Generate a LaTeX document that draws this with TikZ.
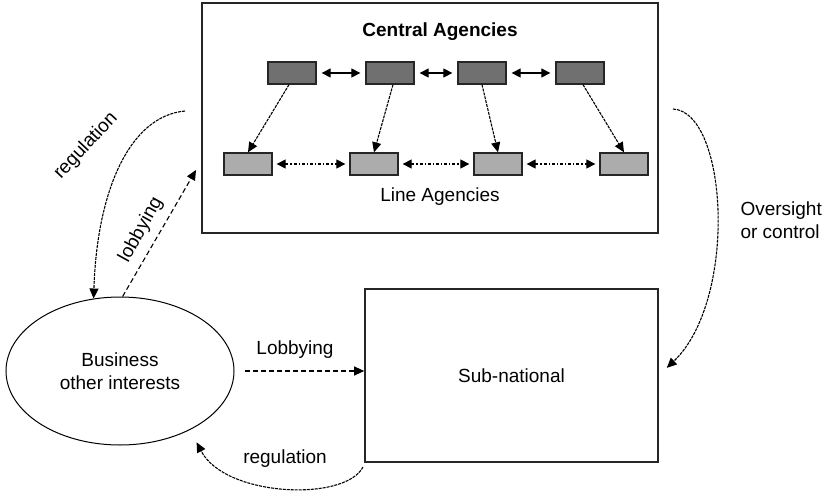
\documentclass[tikz,border=0pt]{standalone}
\usepackage{fontspec}
\setmainfont{Liberation Sans}
\usepackage{tikz}
\usetikzlibrary{shapes.geometric, arrows.meta, positioning, calc}
\definecolor{centralgray}{RGB}{112,112,112}
\definecolor{linegray}{RGB}{172,172,172}
\tikzset{
    every node/.style={font=\fontsize{19}{23}\selectfont},
    frame/.style={rectangle, draw=black!85, line width=1.6pt, inner sep=0pt},
    central/.style={rectangle, fill=centralgray, draw=black!85, line width=1.3pt,
        minimum width=48pt, minimum height=22pt, inner sep=0pt},
    lineag/.style={rectangle, fill=linegray, draw=black!85, line width=1.3pt,
        minimum width=48pt, minimum height=22pt, inner sep=0pt},
    interests/.style={ellipse, draw=black, line width=1pt, minimum width=228pt,
        minimum height=148pt, align=center, inner sep=0pt},
    arrow/.style={line width=1.1pt, -{Triangle[length=10pt,width=9pt]}},
    twoway/.style={line width=1.2pt, {Triangle[length=9pt,width=9pt]}-{Triangle[length=9pt,width=9pt]}},
    finedash/.style={dash pattern=on 3pt off 1pt},
    lobbydash/.style={dash pattern=on 5pt off 3pt}
}
\begin{document}
\begin{tikzpicture}[x=1pt, y=-1pt]
\useasboundingbox (0,0) rectangle (822,490);
% main boxes
\node[frame, minimum width=456pt, minimum height=230pt] (gov) at (430,118) {};
\node[frame, minimum width=293pt, minimum height=173pt] (sub) at (511.5,375.5) {Sub-national};
\node[interests] (busi) at (120,371) {Business\\other interests};
\node[font=\fontsize{19}{23}\selectfont\bfseries] (cenlabel) at (440,32) {Central Agencies};
\node (linelabel) at (440,197) {Line Agencies};
% agencies
\node[central] (c1) at (292,73) {};
\node[central] (c2) at (390,73) {};
\node[central] (c3) at (482,73) {};
\node[central] (c4) at (580,73) {};
\node[lineag] (l1) at (248,164) {};
\node[lineag] (l2) at (374,164) {};
\node[lineag] (l3) at (498,164) {};
\node[lineag] (l4) at (624,164) {};
\draw[twoway, shorten <=5pt, shorten >=5pt] (c1) -- (c2);
\draw[twoway, shorten <=5pt, shorten >=5pt] (c2) -- (c3);
\draw[twoway, shorten <=5pt, shorten >=5pt] (c3) -- (c4);
\draw[twoway, dash dot, shorten <=4pt, shorten >=4pt] (l1) -- (l2);
\draw[twoway, dash dot, shorten <=4pt, shorten >=4pt] (l2) -- (l3);
\draw[twoway, dash dot, shorten <=4pt, shorten >=4pt] (l3) -- (l4);
\draw[arrow, finedash] ([xshift=-3pt]c1.south) -- (l1.north);
\draw[arrow, finedash] ([xshift=3pt]c2.south) -- (l2.north);
\draw[arrow, finedash] (c3.south) -- (l3.north);
\draw[arrow, finedash] ([xshift=3pt]c4.south) -- (l4.north);
% links between levels
\coordinate (regstart) at (185,111);
\coordinate (lobend) at (196,170);
\coordinate (subreg) at (363,467);
\coordinate (ovstart) at (673,109);
\draw[arrow, finedash] (regstart) .. controls (130,116) and (97,190) .. (busi.110);
\node[rotate=47] (reglabel) at (86,146) {regulation};
\draw[arrow, lobbydash] (busi.88) -- (lobend);
\node[rotate=61] (loblabel) at (141,230) {lobbying};
\draw[arrow, lobbydash, shorten <=10pt] (busi.east) -- (busi.east -| sub.west);
\node (lobbylabel) at (295,350) {Lobbying};
\draw[arrow, finedash, shorten >=14pt] (subreg) .. controls (345,502) and (225,497) .. (busi.-40);
\node (regbottom) at (285,459) {regulation};
\draw[arrow, finedash, shorten >=11pt] (ovstart) .. controls (728,112) and (738,300) .. (sub.east);
\node[anchor=west, align=left] (ovlabel) at (737,220) {Oversight\\or control};
\end{tikzpicture}
\end{document}
